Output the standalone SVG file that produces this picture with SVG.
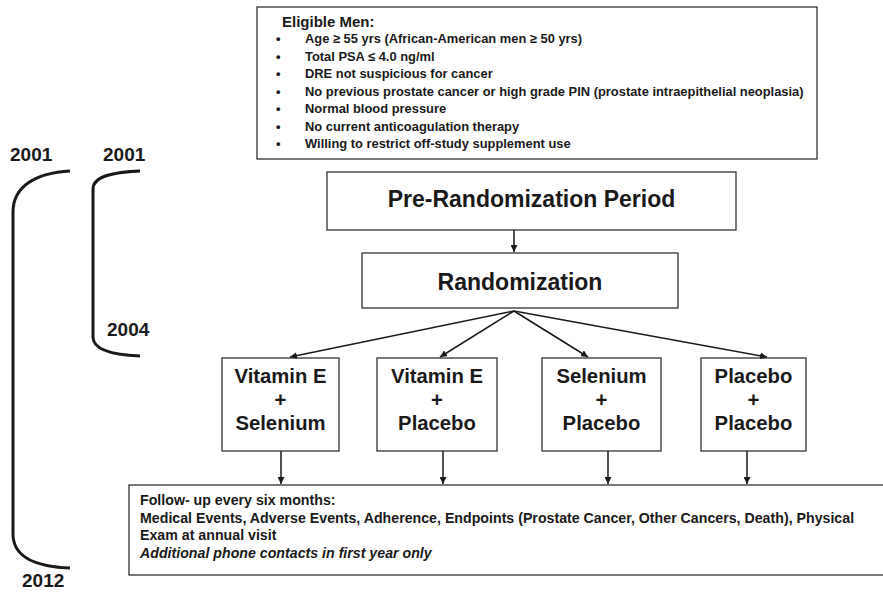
<svg xmlns="http://www.w3.org/2000/svg" width="883" height="594" viewBox="0 0 883 594">
<defs>
<marker id="ah" viewBox="0 0 10 10" refX="10" refY="5" markerWidth="7" markerHeight="7" markerUnits="userSpaceOnUse" orient="auto">
<path d="M0,0 L10,5 L0,10 z" fill="#1a1a1a"/>
</marker>
<style>
.box{fill:#fff;stroke:#333;stroke-width:1.3}
.t{font-family:"Liberation Sans",Arial,sans-serif;font-weight:bold;fill:#1a1a1a}
.big{font-size:23px;text-anchor:middle}
.arm{font-size:20.3px;text-anchor:middle}
.yr{font-size:19px}
.bl{font-size:12.9px}
.fu{font-size:14.2px}
.con{stroke:#1a1a1a;stroke-width:1.5;fill:none}
.br{stroke:#1a1a1a;stroke-width:3;fill:none}
</style>
</defs>
<rect width="883" height="594" fill="#fff"/>

<g id="timeline">
<text class="t yr" x="10" y="161">2001</text>
<text class="t yr" x="103" y="161">2001</text>
<text class="t yr" x="107" y="336">2004</text>
<text class="t yr" x="22" y="587">2012</text>
<path class="br" d="M70,171 C36,173 13,186 13,212 L13,534 C13,558 38,567 70,568"/>
<path class="br" d="M140,171 C114,172 93,176 93,189 L93,337 C93,350 114,355 140,356"/>
</g>

<g id="eligible">
<rect class="box" x="257" y="7" width="560" height="152"/>
<text class="t" x="282" y="27" font-size="15">Eligible Men:</text>
<g class="t bl">
<text x="276" y="43">•</text><text x="305" y="43">Age ≥ 55 yrs (African-American men ≥ 50 yrs)</text>
<text x="276" y="60.5">•</text><text x="305" y="60.5">Total PSA ≤ 4.0 ng/ml</text>
<text x="276" y="78">•</text><text x="305" y="78">DRE not suspicious for cancer</text>
<text x="276" y="95.5">•</text><text x="305" y="95.5">No previous prostate cancer or high grade PIN (prostate intraepithelial neoplasia)</text>
<text x="276" y="113">•</text><text x="305" y="113">Normal blood pressure</text>
<text x="276" y="130.5">•</text><text x="305" y="130.5">No current anticoagulation therapy</text>
<text x="276" y="148">•</text><text x="305" y="148">Willing to restrict off-study supplement use</text>
</g>
</g>

<g id="prerand">
<rect class="box" x="327" y="172" width="409" height="58"/>
<text class="t big" x="531.5" y="207">Pre-Randomization Period</text>
</g>

<g id="rand">
<rect class="box" x="362" y="253" width="316" height="55"/>
<text class="t big" x="520" y="290">Randomization</text>
</g>

<g id="arm1">
<rect class="box" x="222" y="358" width="117" height="93"/>
<text class="t arm" x="280.5" y="383">Vitamin E</text>
<text class="t arm" x="280.5" y="407">+</text>
<text class="t arm" x="280.5" y="430">Selenium</text>
</g>
<g id="arm2">
<rect class="box" x="377" y="358" width="120" height="93"/>
<text class="t arm" x="437" y="383">Vitamin E</text>
<text class="t arm" x="437" y="407">+</text>
<text class="t arm" x="437" y="430">Placebo</text>
</g>
<g id="arm3">
<rect class="box" x="542" y="358" width="119" height="93"/>
<text class="t arm" x="601.5" y="383">Selenium</text>
<text class="t arm" x="601.5" y="407">+</text>
<text class="t arm" x="601.5" y="430">Placebo</text>
</g>
<g id="arm4">
<rect class="box" x="701" y="358" width="105" height="93"/>
<text class="t arm" x="753.5" y="383">Placebo</text>
<text class="t arm" x="753.5" y="407">+</text>
<text class="t arm" x="753.5" y="430">Placebo</text>
</g>

<g id="followup">
<rect class="box" x="129" y="485" width="770" height="90"/>
<text class="t fu" x="140" y="505">Follow- up every six months:</text>
<text class="t fu" x="140" y="523">Medical Events, Adverse Events, Adherence, Endpoints (Prostate Cancer, Other Cancers, Death), Physical</text>
<text class="t fu" x="140" y="540">Exam at annual visit</text>
<text class="t fu" x="140" y="558" font-style="italic">Additional phone contacts in first year only</text>
</g>

<g id="connectors">
<line class="con" x1="514" y1="230" x2="514" y2="252" marker-end="url(#ah)"/>
<line class="con" x1="514" y1="311" x2="290" y2="357" marker-end="url(#ah)"/>
<line class="con" x1="514" y1="311" x2="440" y2="357" marker-end="url(#ah)"/>
<line class="con" x1="514" y1="311" x2="588" y2="357" marker-end="url(#ah)"/>
<line class="con" x1="514" y1="311" x2="767" y2="357" marker-end="url(#ah)"/>
<line class="con" x1="281" y1="451" x2="281" y2="484" marker-end="url(#ah)"/>
<line class="con" x1="443" y1="451" x2="443" y2="484" marker-end="url(#ah)"/>
<line class="con" x1="608" y1="451" x2="608" y2="484" marker-end="url(#ah)"/>
<line class="con" x1="747" y1="451" x2="747" y2="484" marker-end="url(#ah)"/>
</g>
</svg>
